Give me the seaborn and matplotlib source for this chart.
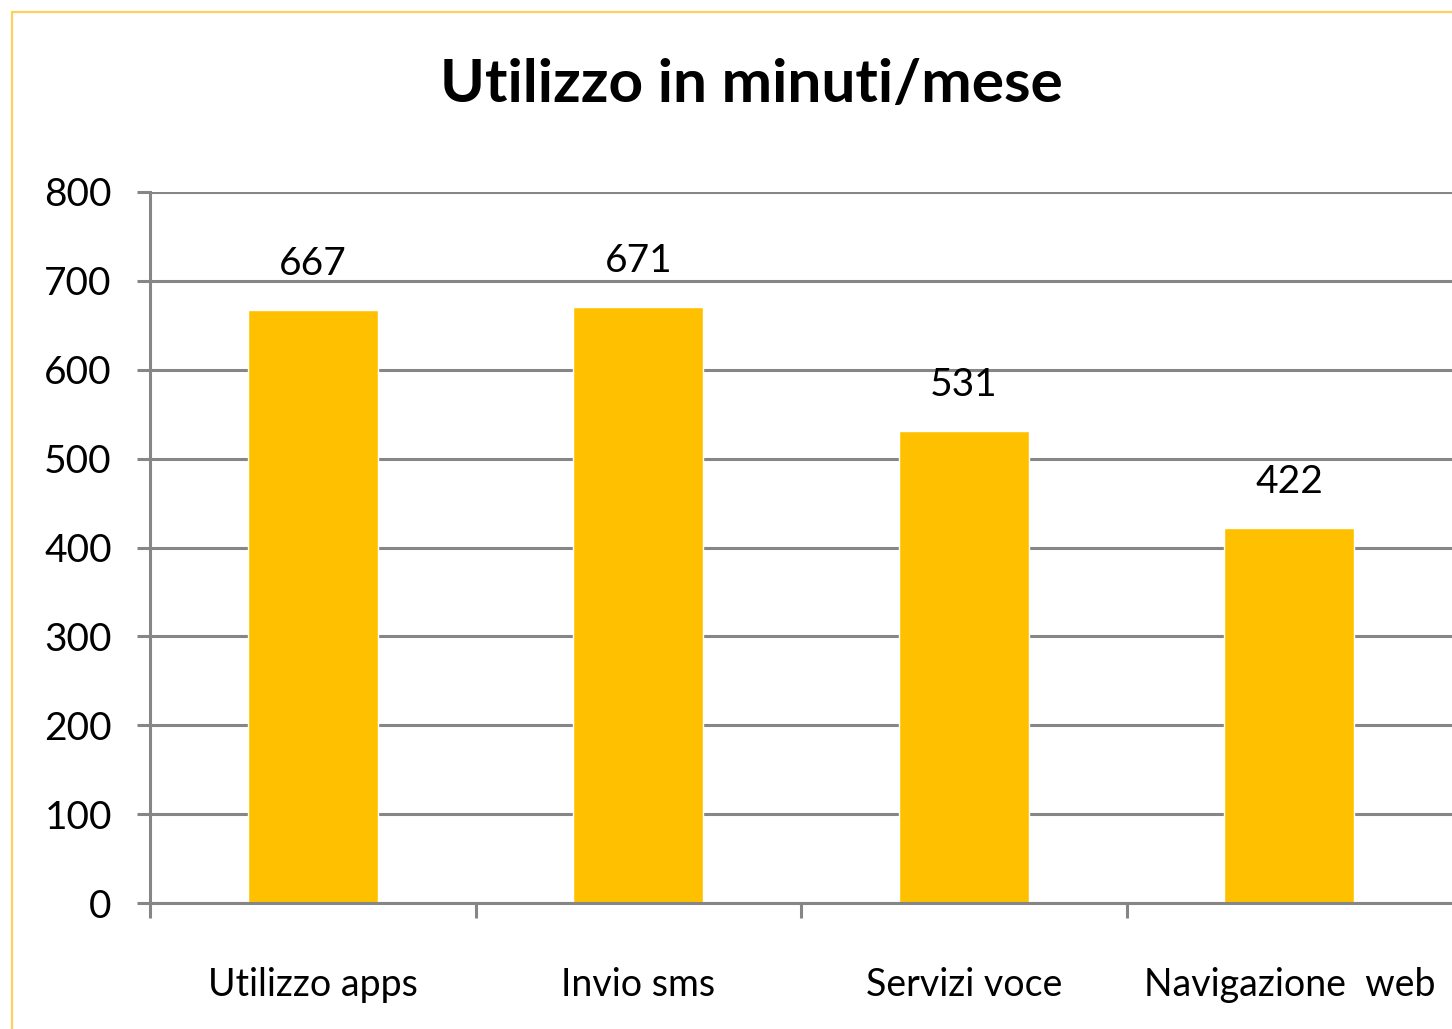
import matplotlib
matplotlib.use("Agg")
import matplotlib.pyplot as plt
import seaborn as sns
import pandas as pd
from matplotlib.patches import Rectangle

categories = ["Utilizzo apps", "Invio sms", "Servizi voce", "Navigazione  web"]
values = [667, 671, 531, 422]
yticks = [0, 100, 200, 300, 400, 500, 600, 700, 800]
title = "Utilizzo in minuti/mese"

sns.set_style("white")
plt.rcParams['font.family'] = ['Lato', 'DejaVu Sans']

df = pd.DataFrame({"cat": categories, "val": values})

fig = plt.figure(figsize=(14.52, 10.29), dpi=100)
ax = fig.add_axes([150/1452, 1-903/1029, 1302/1452, (903-192)/1029])

grid_c = "#868686"
for y in yticks:
    ax.axhline(y, color=grid_c, lw=2.2, zorder=0)

sns.barplot(data=df, x="cat", y="val", color="#FFC000", saturation=1,
            width=0.4, ax=ax, zorder=2)

ax.set_xlim(-0.5, 3.5)
ax.set_ylim(0, 800)
ax.set_yticks(yticks)
ax.set_yticklabels([str(v) for v in yticks], fontsize=28, color="black")
ax.set_xlabel("")
ax.set_ylabel("")
ax.set_xticks(range(len(categories)))
ax.set_xticklabels(categories, fontsize=27, color="black")
ax.set_xticks([-0.5, 0.5, 1.5, 2.5], minor=True)
ax.tick_params(axis="x", which="major", bottom=True, length=0, pad=46)
ax.tick_params(axis="x", which="minor", bottom=True, length=11, width=2.2,
               color=grid_c, direction="out")
ax.tick_params(axis="y", which="major", left=True, length=9.5, width=2.2,
               color=grid_c, pad=18, direction="out")

for s in ["top", "right"]:
    ax.spines[s].set_visible(False)
for s in ["left", "bottom"]:
    ax.spines[s].set_color(grid_c)
    ax.spines[s].set_linewidth(2.2)

for c in ax.containers:
    ax.bar_label(c, labels=[str(v) for v in values], padding=20, fontsize=28, color="black")

fig.text(751/1452, 1-85/1029, title, ha="center", va="center", fontsize=43.5,
         fontweight="bold", color="black")

fig.patches.append(Rectangle((12/1452, -0.1), 1.2, 1-12/1029+0.1, transform=fig.transFigure,
                             fill=False, edgecolor="#FFD060", lw=1.6, figure=fig))

fig.savefig("out.png", dpi=100)
